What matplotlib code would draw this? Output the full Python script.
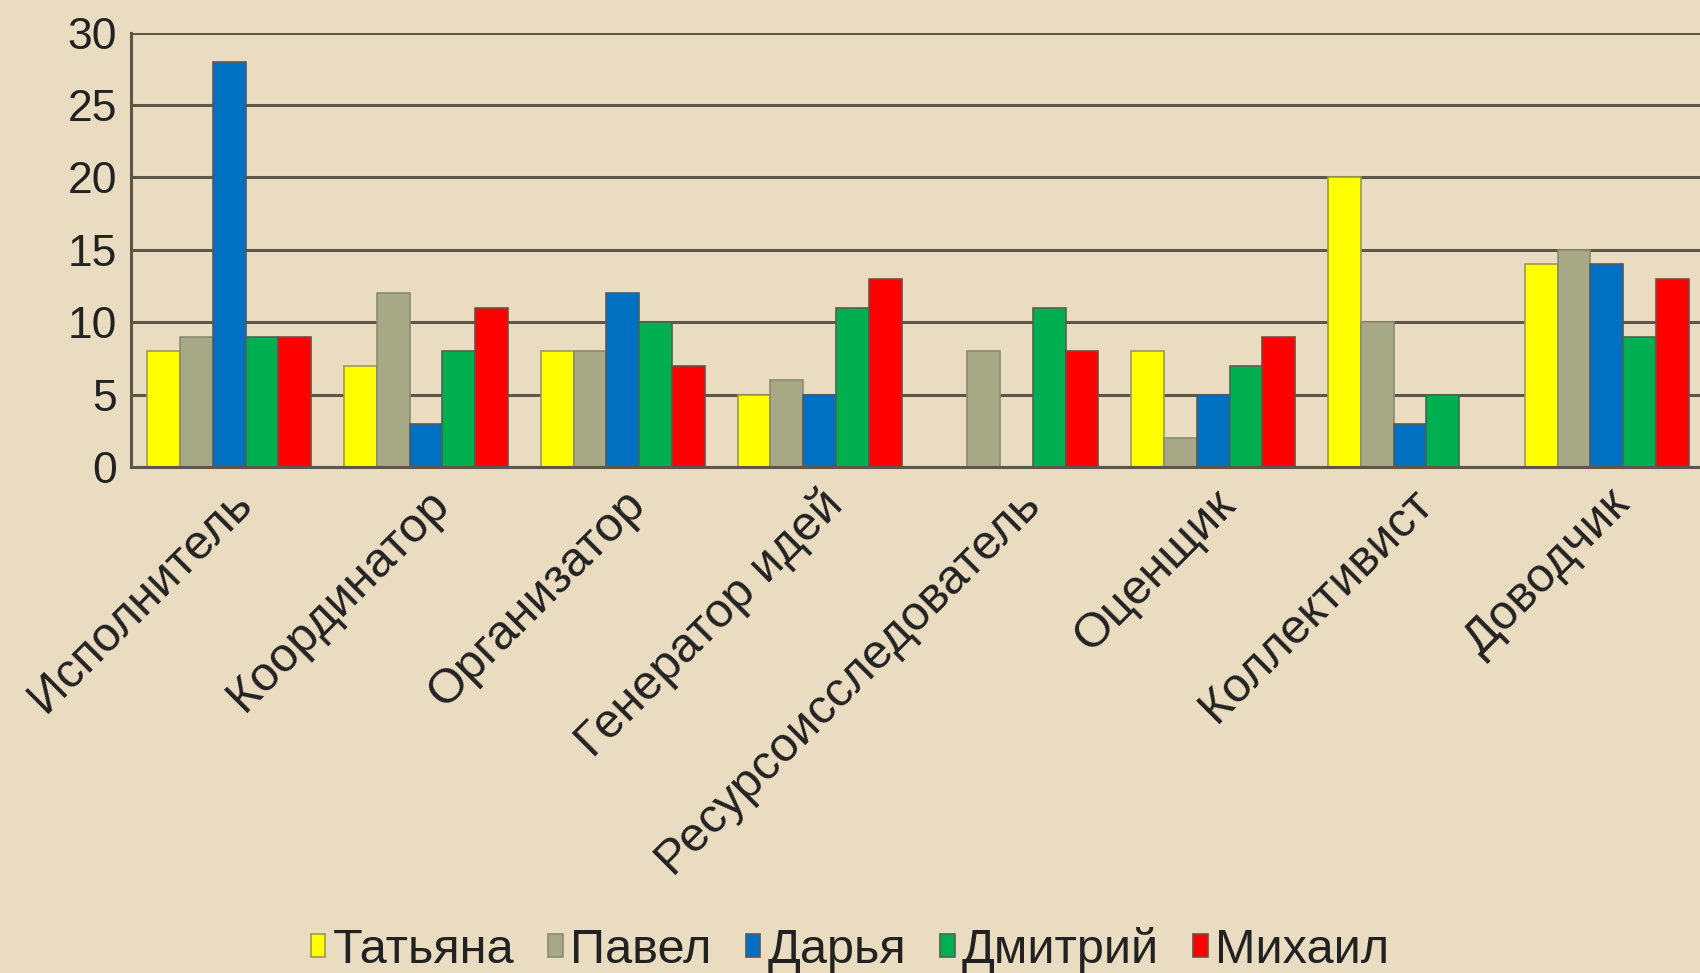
import numpy as np
import matplotlib.pyplot as plt

plt.rcParams['font.family'] = ['Liberation Sans', 'DejaVu Sans']

categories = ['Исполнитель', 'Координатор', 'Организатор', 'Генератор идей',
              'Ресурсоисследователь', 'Оценщик', 'Коллективист', 'Доводчик']
names = ['Татьяна', 'Павел', 'Дарья', 'Дмитрий', 'Михаил']
tatyana = [8, 7, 8, 5, 0, 8, 20, 14]
pavel = [9, 12, 8, 6, 8, 2, 10, 15]
darya = [28, 3, 12, 5, 0, 5, 3, 14]
dmitry = [9, 8, 10, 11, 11, 7, 5, 9]
mikhail = [9, 11, 7, 13, 8, 9, 0, 13]
yticks = [0, 5, 10, 15, 20, 25, 30]

series = [tatyana, pavel, darya, dmitry, mikhail]
colors = ['#FFFF00', '#A6A886', '#0070C0', '#00B050', '#FF0000']
edges = ['#9C9A4E', '#8A8B70', '#505A66', '#4A6650', '#7A4A40']
bg = '#EADCC1'

fig = plt.figure(figsize=(17, 9.73), dpi=100)
fig.patch.set_facecolor(bg)
ax = fig.add_axes([0.077, 0.52, 0.926, 0.4465])
ax.set_facecolor(bg)

x = np.arange(len(categories))
w = 1.0 / 6
for i, (vals, c, ec, n) in enumerate(zip(series, colors, edges, names)):
    ax.bar(x + (i - 2) * w, vals, width=w, color=c, edgecolor=ec,
           linewidth=1.2, label=n, zorder=3)

ax.set_xlim(-0.5, len(categories) - 0.5)
ax.set_ylim(0, 30)
ax.set_yticks(yticks)
ax.yaxis.grid(True, color='#5C564B', linewidth=2.2, zorder=1)
ax.set_axisbelow(True)
ax.tick_params(axis='y', length=0, pad=10, labelsize=32, labelcolor='#222222')
ax.tick_params(axis='x', length=0, pad=10)
ax.set_xticks(x)
ax.set_xticklabels(categories, rotation=45, ha='right', rotation_mode='anchor',
                   fontsize=35, color='#222222')

for s in ['top', 'right']:
    ax.spines[s].set_visible(False)
for s in ['left', 'bottom']:
    ax.spines[s].set_color('#5C564B')
    ax.spines[s].set_linewidth(2.2)
    ax.spines[s].set_zorder(4)

leg = fig.legend(loc='lower center', bbox_to_anchor=(0.5, -0.045), ncol=5,
                 frameon=False, fontsize=35, handlelength=0.3, handleheight=0.35,
                 handletextpad=0.15, columnspacing=0.7)
for t in leg.get_texts():
    t.set_color('#222222')

fig.savefig('out.png', dpi=100, facecolor=bg)
